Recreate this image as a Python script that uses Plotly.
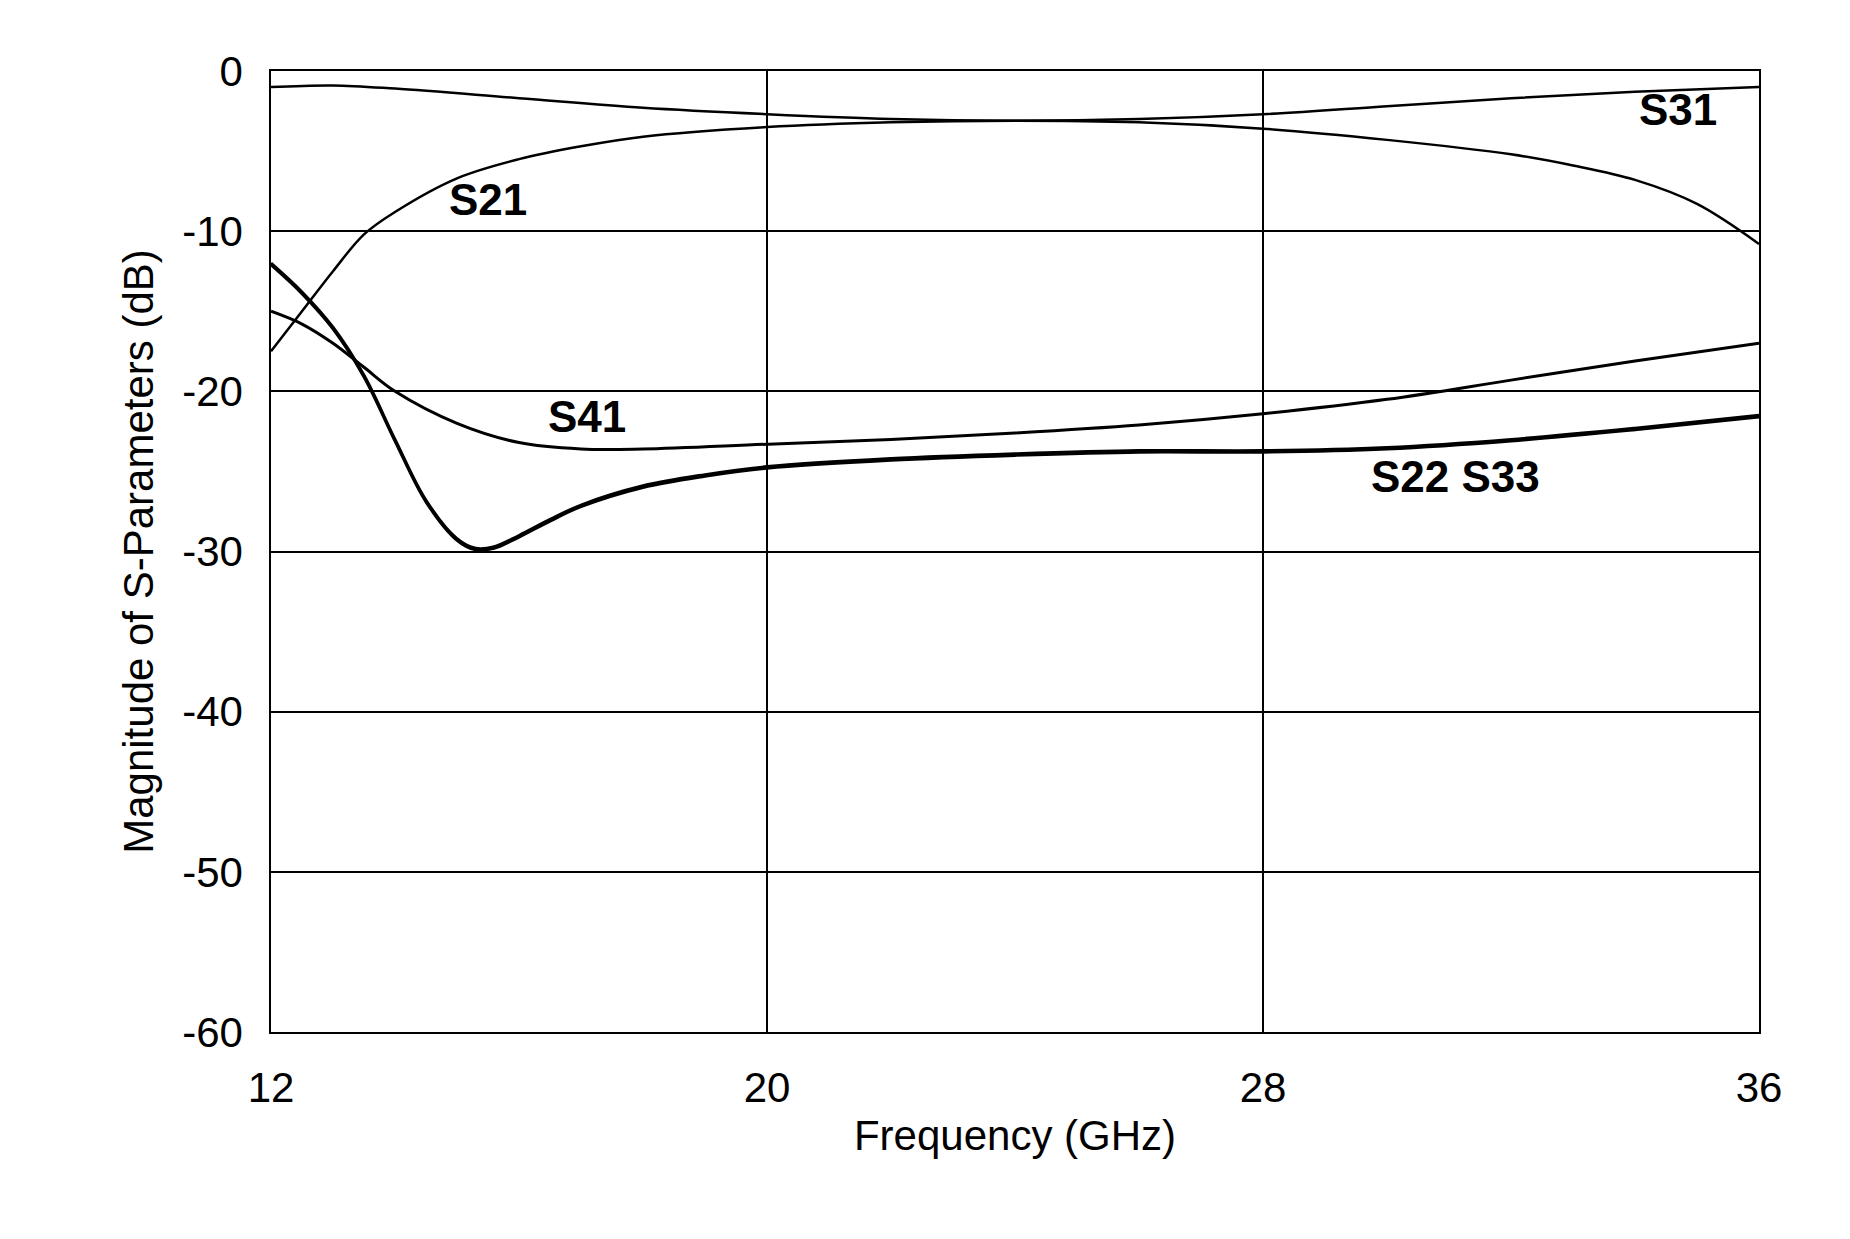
import plotly.graph_objects as go

f_s31 = [12, 13, 14, 16, 18, 20, 22, 24, 26, 28, 30, 32, 34, 36]
s31 = [-1.0, -0.9, -1.1, -1.7, -2.3, -2.7, -3.0, -3.1, -3.0, -2.7, -2.2, -1.7, -1.3, -1.0]

f_s21 = [12, 12.5, 13, 13.5, 14, 15, 16, 17, 18, 20, 22, 24, 26, 28, 30, 32, 33, 34, 35, 36]
s21 = [-17.5, -15.0, -12.5, -10.2, -8.8, -6.7, -5.5, -4.7, -4.1, -3.5, -3.2, -3.1, -3.2, -3.6, -4.3, -5.2, -5.9, -6.8, -8.3, -10.8]

f_s41 = [12, 12.5, 13, 13.5, 14, 15, 16, 17, 18, 20, 22, 24, 26, 28, 30, 32, 34, 36]
s41 = [-15.0, -15.8, -17.0, -18.5, -20.0, -22.0, -23.2, -23.6, -23.6, -23.3, -23.0, -22.6, -22.1, -21.4, -20.5, -19.3, -18.1, -17.0]

f_s22 = [12, 12.5, 13, 13.5, 14, 14.5, 15, 15.3, 15.6, 16, 16.5, 17, 18, 19, 20, 22, 24, 26, 28, 30, 32, 34, 36]
s22 = [-12.0, -13.8, -16.0, -19.0, -23.0, -26.8, -29.2, -29.8, -29.7, -29.0, -28.0, -27.1, -25.9, -25.2, -24.7, -24.2, -23.9, -23.7, -23.7, -23.5, -23.0, -22.3, -21.5]
s33 = [-12.1, -13.9, -16.1, -19.1, -23.1, -26.9, -29.3, -29.9, -29.8, -29.1, -28.1, -27.2, -26.0, -25.3, -24.8, -24.3, -24.0, -23.8, -23.8, -23.6, -23.1, -22.4, -21.6]

y_ticks = [0, -10, -20, -30, -40, -50, -60]
y_tick_text = ["0", "-10", "-20", "-30", "-40", "-50", "-60"]
x_ticks = [12, 20, 28, 36]

labels = [("S31", 34.7, -2.4), ("S21", 15.5, -8.0), ("S41", 17.1, -21.6), ("S22 S33", 31.1, -25.3)]

fig = go.Figure()
for x, y, w in [(f_s31, s31, 2.5), (f_s21, s21, 2.5), (f_s41, s41, 3), (f_s22, s22, 3), (f_s22, s33, 3)]:
    fig.add_trace(go.Scatter(x=x, y=y, mode="lines", line=dict(color="black", width=w, shape="spline"), showlegend=False))

for text, x, y in labels:
    fig.add_annotation(x=x, y=y, text=f"<b>{text}</b>", showarrow=False,
                       font=dict(family="Liberation Sans", size=44, color="black"))

axis_common = dict(showgrid=True, gridcolor="black", gridwidth=1.5, showline=True, linecolor="black",
                   linewidth=1.5, mirror=True, zeroline=False, ticks="", ticklabelstandoff=18,
                   tickfont=dict(family="Liberation Sans", size=42, color="black"))
fig.update_xaxes(range=[12, 36], tickvals=x_ticks, title=dict(text="Frequency (GHz)", standoff=10,
                 font=dict(family="Liberation Sans", size=42, color="black")), **axis_common)
fig.update_yaxes(range=[-60, 0], tickvals=y_ticks, ticktext=y_tick_text,
                 title=dict(text="Magnitude of S-Parameters (dB)", standoff=15,
                            font=dict(family="Liberation Sans", size=42, color="black")), **axis_common)
fig.update_layout(width=1850, height=1239, plot_bgcolor="white", paper_bgcolor="white",
                  margin=dict(l=263, r=99, t=63, b=215))
fig.write_html("out.html")
